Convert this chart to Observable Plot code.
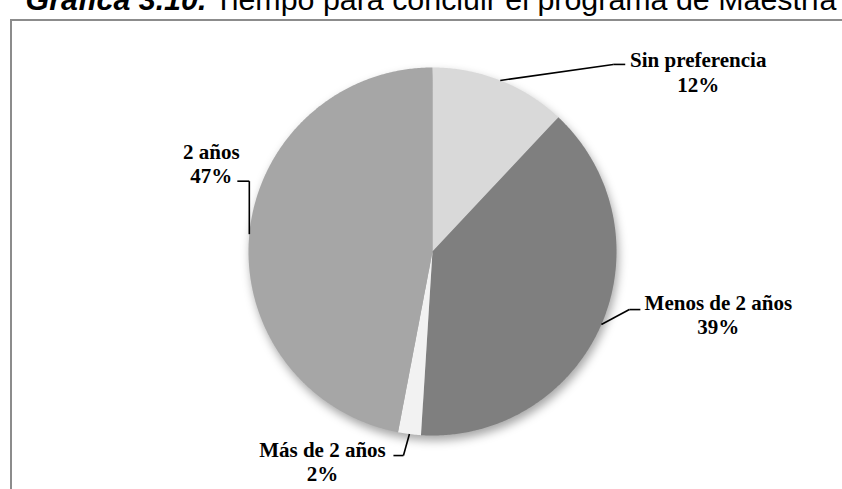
<!DOCTYPE html>
<html><head><meta charset="utf-8">
<script src="https://cdn.jsdelivr.net/npm/d3@7"></script>
<script src="https://cdn.jsdelivr.net/npm/@observablehq/plot@0.6"></script>
<style>
html,body{margin:0;padding:0;background:#fff;}
#wrap{position:relative;width:842px;height:489px;overflow:hidden;}
#chart svg{display:block;}
#frame{position:absolute;left:10px;top:19px;width:900px;height:600px;border-left:2px solid #8c8c8c;border-top:2px solid #8c8c8c;box-sizing:border-box;}
#title{position:absolute;left:10px;width:842px;top:-16px;text-align:center;font:30.4px/30px "Liberation Sans",Arial,sans-serif;color:#000;white-space:nowrap;}
#chart g[aria-label="line"]{filter:drop-shadow(2px 5px 5px rgba(0,0,0,0.35));}
</style></head><body>
<div id="wrap"><div id="frame"></div><div id="chart"></div><div id="title"></div></div>
<script>
// ---- data ----
const categories = ["Sin preferencia", "Menos de 2 años", "Más de 2 años", "2 años"];
const percents = [12, 39, 2, 47];
const sliceColors = ["#d9d9d9", "#7f7f7f", "#f2f2f2", "#a6a6a6"];
const titleLead = "Gráfica 3.10.";
const titleText = "Tiempo para concluir el programa de Maestría";

// ---- layout ----
const W = 842, H = 489;
const cx = 432, cy = 251, R = 184;
// label block centre and leader elbow/end, offsets from the slice's edge anchor
const labelLayout = [
  {dx: 198, dy: -8.6, elbow: [113, -16], end: [125, -16]},
  {dx: 117, dy: -10.6, elbow: [28, -15], end: [39, -15]},
  {dx: -87, dy: 27, elbow: [-6, 21.5], end: [-16, 21.5]},
  {dx: -38, dy: -70.6, elbow: [0, -53], end: [-12, -53]}
];

document.getElementById("title").innerHTML =
  `<b><i>${titleLead}</i></b> ${titleText}`;

const total = d3.sum(percents);
const pt = (a, r) => [cx + r * Math.sin(a), cy - r * Math.cos(a)];

const wedges = [];
const labels = [];
const leaders = [];
let acc = 0;
categories.forEach((cat, i) => {
  const a0 = acc / total * 2 * Math.PI;
  acc += percents[i];
  const a1 = acc / total * 2 * Math.PI;
  wedges.push({cat, color: sliceColors[i], x: cx, y: cy});
  const n = Math.max(2, Math.ceil((a1 - a0) / (Math.PI / 360)));
  for (let k = 0; k <= n; k++) {
    const [x, y] = pt(a0 + (a1 - a0) * k / n, R);
    wedges.push({cat, color: sliceColors[i], x, y});
  }
  const am = (a0 + a1) / 2;
  const [ax, ay] = pt(am, R);
  const L = labelLayout[i];
  labels.push({x: ax + L.dx, y: ay + L.dy, text: `${cat}\n${percents[i]}%`});
  const ex = ax + L.elbow[0], ey = ay + L.elbow[1];
  leaders.push({x1: ax, y1: ay, x2: ex, y2: ey});
  leaders.push({x1: ex, y1: ey, x2: ax + L.end[0], y2: ay + L.end[1]});
});

const chart = Plot.plot({
  width: W, height: H, margin: 0,
  x: {domain: [0, W], range: [0, W], axis: null},
  y: {domain: [0, H], range: [0, H], axis: null},
  color: {type: "identity"},
  marks: [
    Plot.line(wedges, {x: "x", y: "y", z: "cat", fill: "color", stroke: "none", curve: "linear-closed"}),
    Plot.link(leaders, {x1: "x1", y1: "y1", x2: "x2", y2: "y2", stroke: "#000", strokeWidth: 1.6}),
    Plot.text(labels, {x: "x", y: "y", text: "text", fill: "#000", fontSize: 21, fontWeight: "bold",
      fontFamily: "'Liberation Serif','Times New Roman',serif", lineHeight: 1.15, textAnchor: "middle"})
  ]
});
chart.style.background = "transparent";
document.getElementById("chart").appendChild(chart);
</script>
</body></html>
